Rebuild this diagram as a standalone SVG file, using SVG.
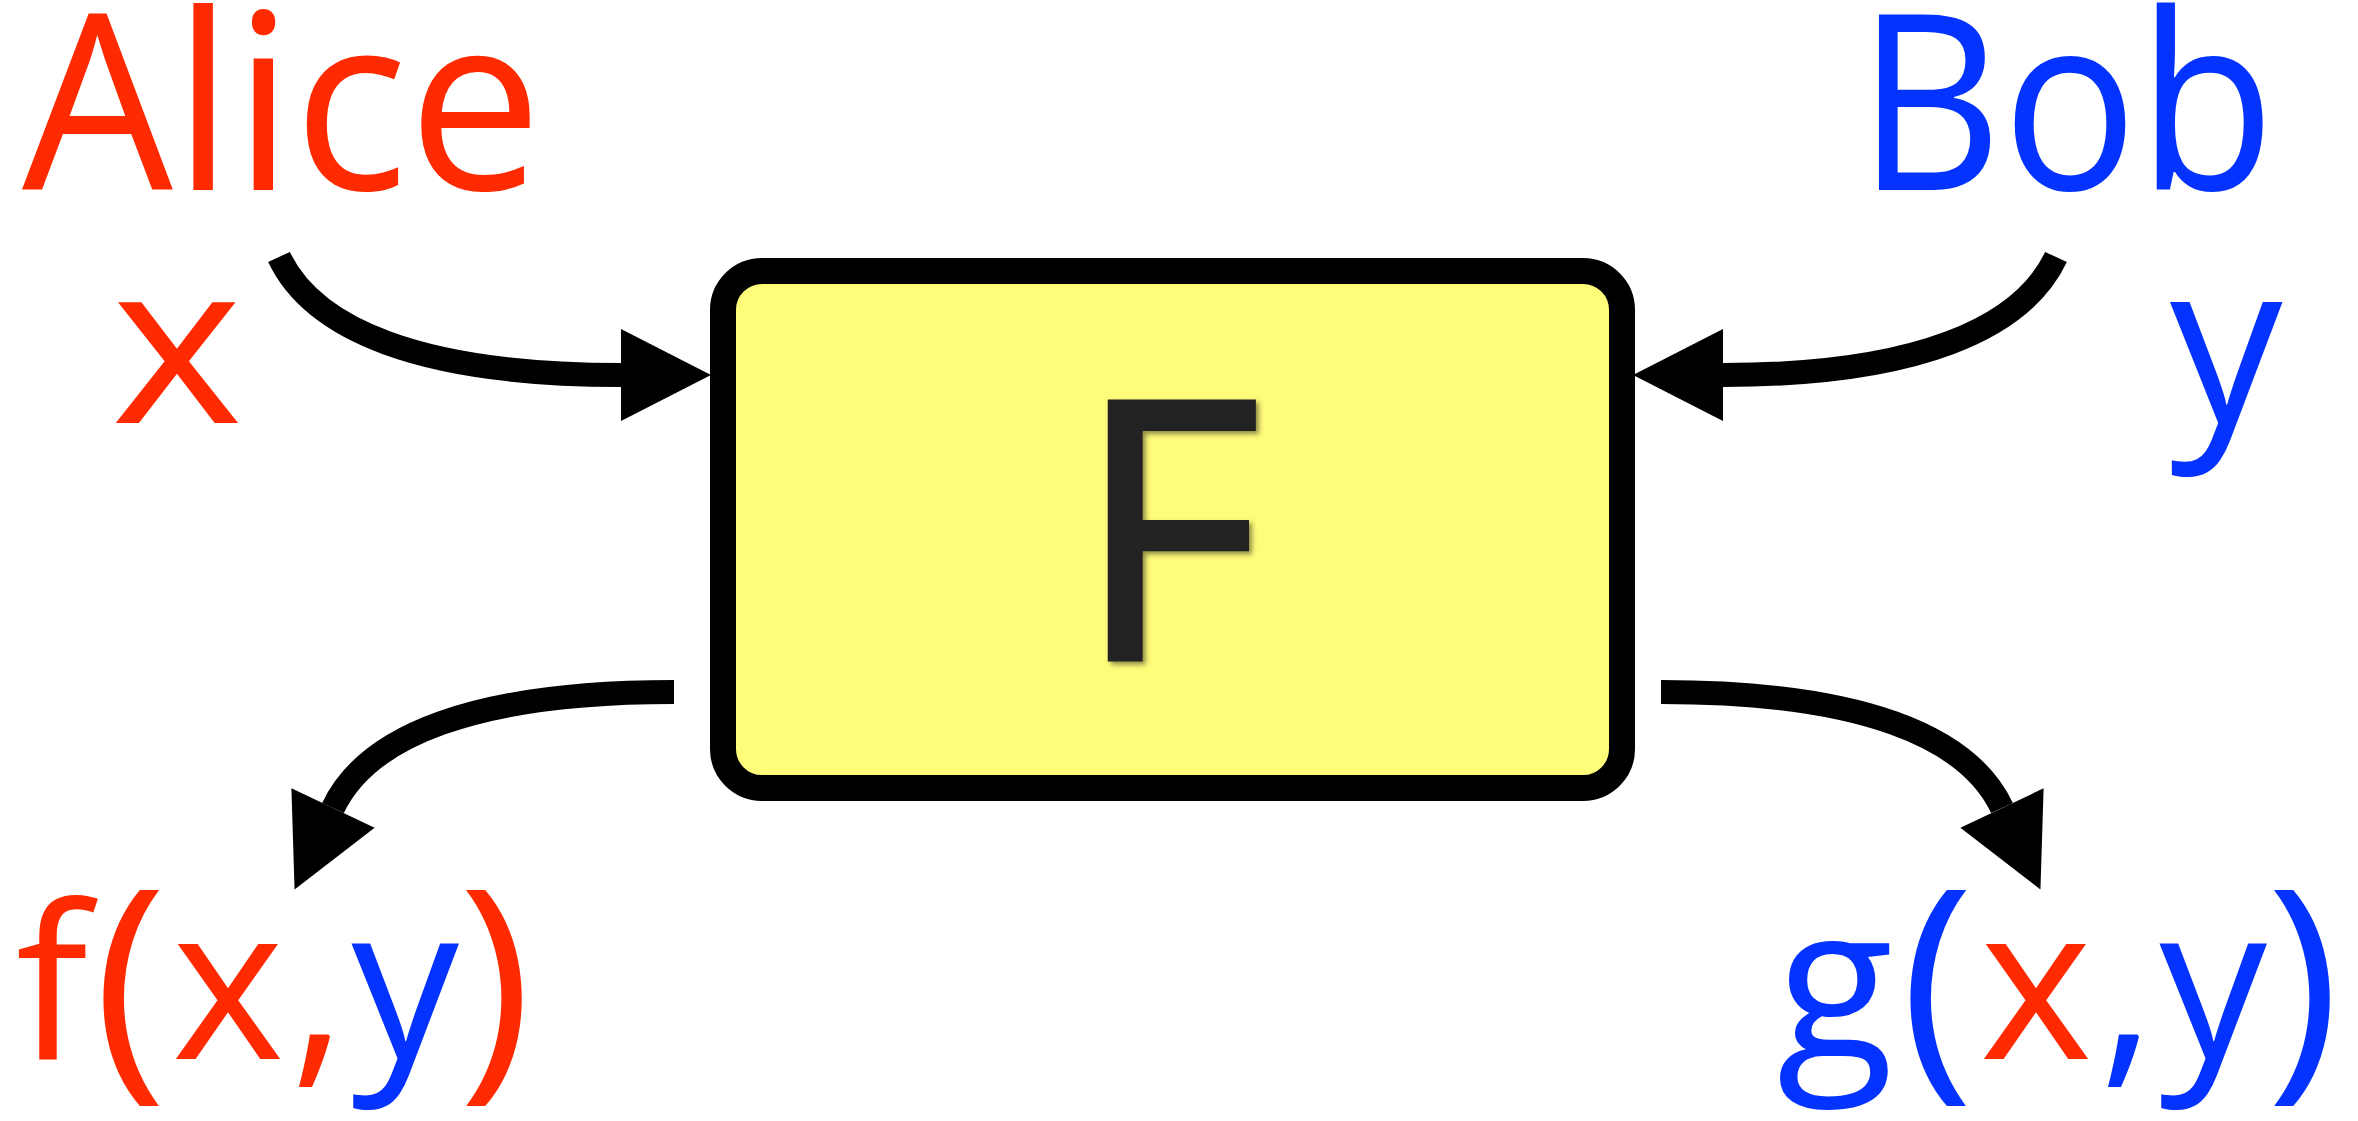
<svg xmlns="http://www.w3.org/2000/svg" width="2358" height="1121" viewBox="0 0 2358 1121">
  <style>
    text { font-family: "Open Sans", "Noto Sans", "DejaVu Sans", sans-serif; }
    .red { fill: #ff2a00; }
    .blue { fill: #0433ff; }
    .wire { fill: none; stroke: #000; stroke-width: 24; stroke-linecap: butt; marker-end: url(#head); }
    .box { fill: #fffc7a; stroke: #000; stroke-width: 26; }
    .paren { font-size: 248px; }
  </style>
  <defs>
    <marker id="head" markerUnits="userSpaceOnUse" markerWidth="90" markerHeight="92" refX="0" refY="46" orient="auto" overflow="visible">
      <path d="M0,0 L90,46 L0,92 z" fill="#000"/>
    </marker>
    <filter id="soft" x="-20%" y="-20%" width="140%" height="140%">
      <feDropShadow dx="3" dy="3" stdDeviation="2.5" flood-color="#000" flood-opacity="0.45"/>
    </filter>
  </defs>
  <rect width="2358" height="1121" fill="#fff"/>

  <!-- party names -->
  <g id="alice">
    <text class="red" x="22" y="190" font-size="245" textLength="520" lengthAdjust="spacingAndGlyphs">Alice</text>
  </g>
  <g id="bob">
    <text class="blue" x="1857" y="190" font-size="245" textLength="418" lengthAdjust="spacingAndGlyphs">Bob</text>
  </g>

  <!-- private inputs -->
  <g id="input-x">
    <text class="red" font-size="225" text-anchor="middle" transform="translate(177,423) scale(1.12,1)">x</text>
  </g>
  <g id="input-y">
    <text class="blue" x="2226" y="423" font-size="225" text-anchor="middle">y</text>
  </g>

  <!-- the joint function -->
  <g id="function-F">
    <rect class="box" x="723" y="271" width="899" height="517" rx="39" ry="39"/>
    <text x="1168" y="659" font-size="360" fill="#222" stroke="#222" stroke-width="5" stroke-linejoin="miter" text-anchor="middle" filter="url(#soft)">F</text>
  </g>

  <!-- outputs: each glyph is its own chunk, kept on one line so no spaces creep in -->
  <g id="output-f">
    <text y="1059" font-size="215" text-anchor="middle"><tspan class="red" x="52">f</tspan><tspan class="red paren" x="130" y="1067">(</tspan><tspan class="red" x="228" y="1059">x</tspan><tspan class="red" x="318">,</tspan><tspan class="blue" x="405">y</tspan><tspan class="red paren" x="495" y="1067">)</tspan></text>
  </g>
  <g id="output-g">
    <text y="1059" font-size="215" text-anchor="middle"><tspan class="blue" x="1835">g</tspan><tspan class="blue paren" x="1937" y="1067">(</tspan><tspan class="red" x="2036" y="1059">x</tspan><tspan class="blue" x="2127">,</tspan><tspan class="blue" x="2213">y</tspan><tspan class="blue paren" x="2303" y="1067">)</tspan></text>
  </g>

  <!-- connectors -->
  <g id="connectors">
    <path class="wire" d="M279,257 C313,329 419,375 621,375"/>
    <path class="wire" d="M2056,257 C2022,329 1916,375 1723,375"/>
    <path class="wire" d="M674,692 C474,692 367,736 333,808"/>
    <path class="wire" d="M1661,692 C1861,692 1968,736 2002,808"/>
  </g>
</svg>
